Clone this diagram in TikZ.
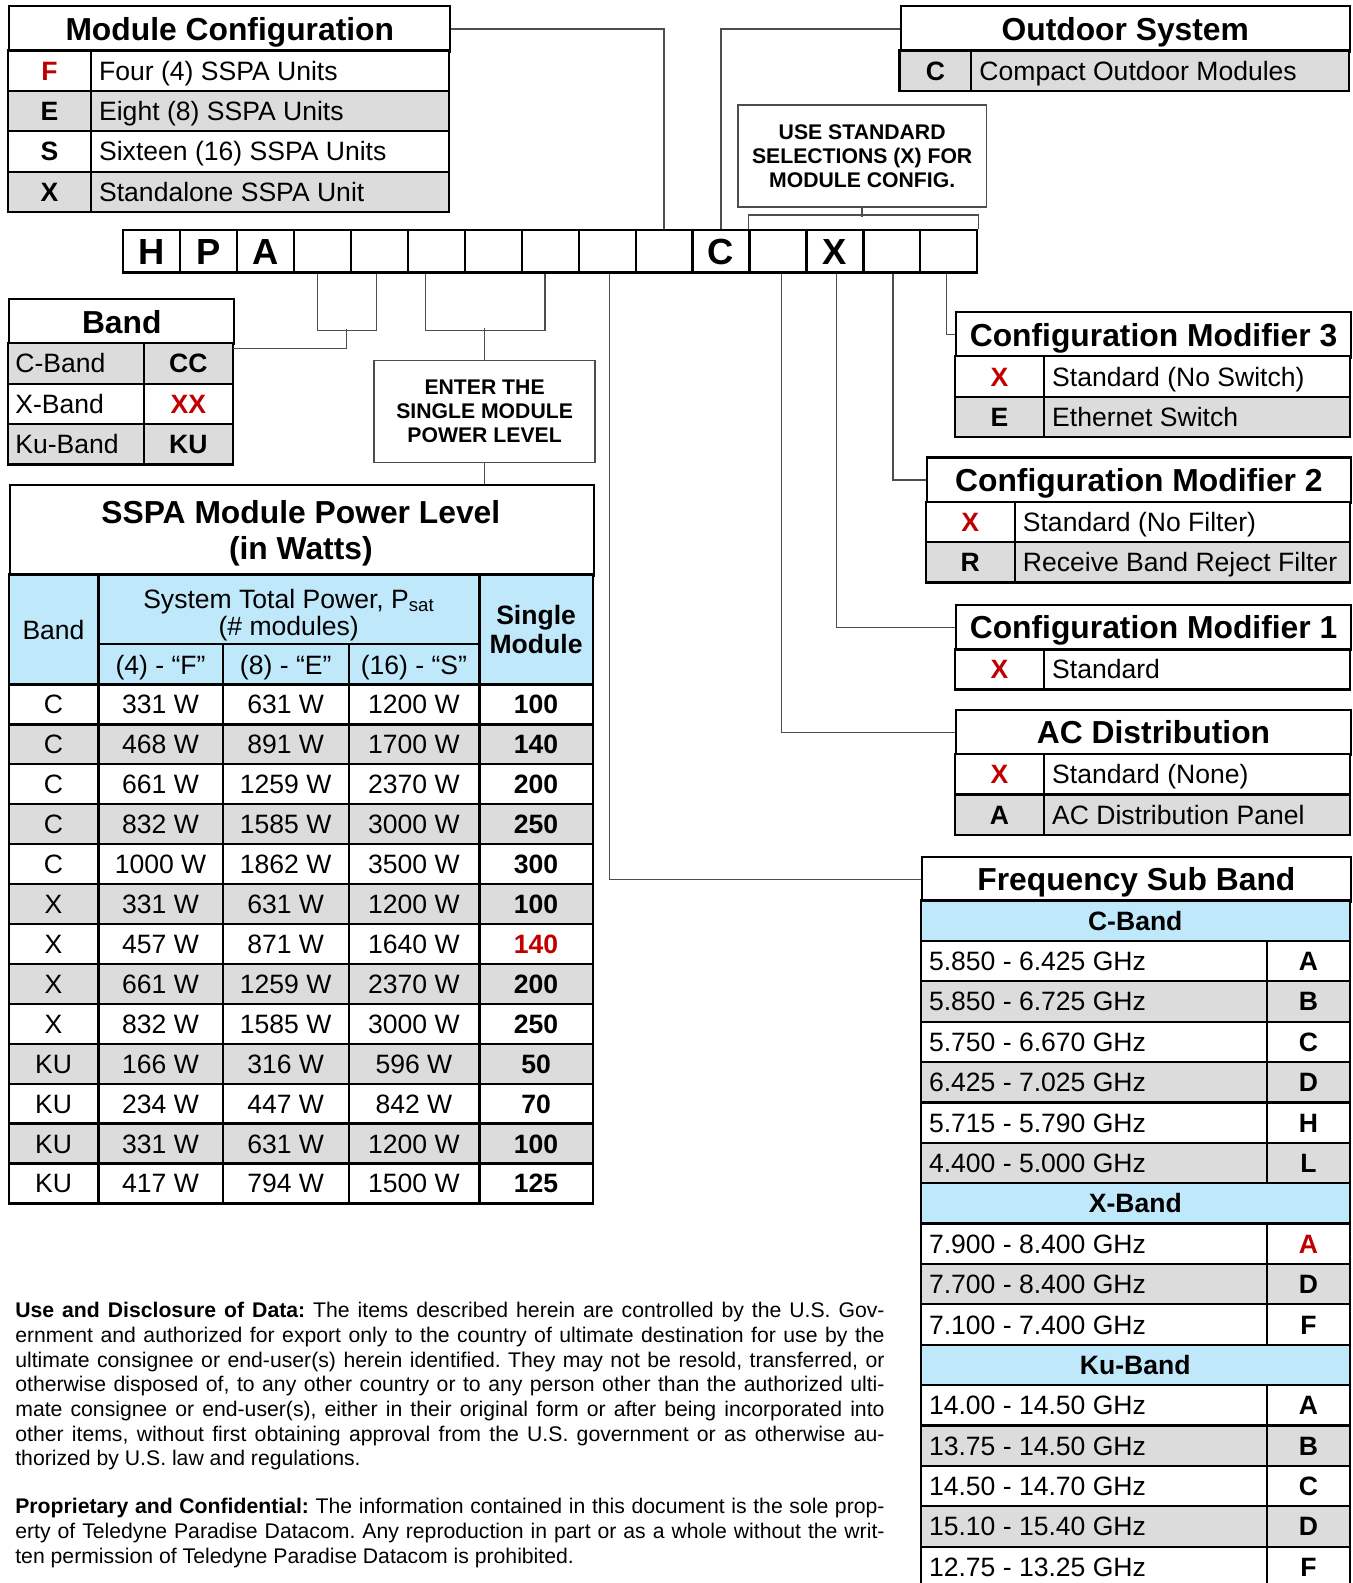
\documentclass[tikz,border=0pt]{standalone}
\usepackage{fontspec}
\setmainfont{Liberation Sans}
\frenchspacing
\definecolor{rowgray}{HTML}{DCDCDC}
\definecolor{hdrblue}{HTML}{C0E8FB}
\definecolor{keyred}{HTML}{C00000}
\definecolor{linkgray}{HTML}{4D4D4D}
\newcommand{\ttlfont}{\fontsize{31.5}{36}\selectfont\bfseries}
\newcommand{\txtfont}{\fontsize{26.3}{29.5}\selectfont}
\newcommand{\notefont}{\fontsize{21}{24}\selectfont\bfseries}
\newcommand{\codefont}{\fontsize{36}{40}\selectfont\bfseries}
\newcommand{\parfont}{\fontsize{21}{24.4}\selectfont}

\begin{document}
\begin{tikzpicture}[x=1pt, y=-1pt,
    tbl/.style={draw=black, line width=2.2pt},
    conn/.style={draw=linkgray, line width=1.4pt},
    ttlbox/.style={tbl, font=\ttlfont, inner sep=0pt, text height=22.6pt, text depth=0pt},
    ttltxt/.style={font=\ttlfont, inner sep=0pt, text height=22.6pt, text depth=0pt},
    txt/.style={font=\txtfont, inner sep=0pt, text height=18.8pt, text depth=0pt},
    keytxt/.style={txt, font=\txtfont\bfseries},
    codecell/.style={tbl, minimum width=56.4pt, minimum height=42pt, inner sep=0pt},
    codetxt/.style={font=\codefont, inner sep=0pt, text height=25.8pt, text depth=0pt},
    notebox/.style={draw=linkgray, line width=1.4pt, font=\notefont, align=center, inner sep=0pt}]
    \useasboundingbox (0,0) rectangle (1340,1568);

    % Part number boxes
    \foreach \i in {1,...,15}
        \node[codecell] (c\i) at ({122+56.4*(\i-0.5)},249) {};
    \foreach \l/\i in {H/1, P/2, A/3, C/11, X/13}
        \node[codetxt] (l\i) at (c\i) {\l};

    % Module Configuration
    \node[ttlbox, minimum width=437pt, minimum height=45pt, anchor=north west] (modcfg) at (8,5) {Module Configuration};
    \foreach \k/\kc/\t/\f [count=\i] in {F/keyred/Four (4) SSPA Units/white, E/black/Eight (8) SSPA Units/rowgray,
        S/black/Sixteen (16) SSPA Units/white, X/black/Standalone SSPA Unit/rowgray} {
        \draw[tbl, fill=\f] (8,{10+40*\i}) rectangle (445,{50+40*\i});
        \node[keytxt, text=\kc] (mck\i) at (49,{30+40*\i}) {\k};
        \node[txt, anchor=west] (mct\i) at (98,{30+40*\i}) {\t};
    }
    \draw[tbl] (90,50) -- (90,210);

    % Outdoor System
    \node[ttlbox, minimum width=445pt, minimum height=45pt, anchor=north west] (outdoor) at (891,5) {Outdoor System};
    \draw[tbl, fill=rowgray] (891,50) rectangle (1336,90);
    \draw[tbl] (962,50) -- (962,90);
    \node[keytxt] (odk) at (926.5,70) {C};
    \node[txt, anchor=west] (odt) at (970,70) {Compact Outdoor Modules};

    % Notes
    \node[notebox, minimum width=246pt, minimum height=101pt] (usenote) at (854,154.5) {USE STANDARD\\SELECTIONS (X) FOR\\MODULE CONFIG.};
    \node[notebox, minimum width=219pt, minimum height=101pt] (enternote) at (480,407.5) {ENTER THE\\SINGLE MODULE\\POWER LEVEL};

    % Band
    \node[ttlbox, minimum width=223pt, minimum height=45pt, anchor=north west] (bandttl) at (8,295) {Band};
    \foreach \t/\k/\kc/\f [count=\i] in {C-Band/CC/black/rowgray, X-Band/XX/keyred/white, Ku-Band/KU/black/rowgray} {
        \draw[tbl, fill=\f] (8,{300+40*\i}) rectangle (231,{340+40*\i});
        \node[txt, anchor=west] (bt\i) at (15,{320+40*\i}) {\t};
        \node[keytxt, text=\kc] (bk\i) at (186.5,{320+40*\i}) {\k};
    }
    \draw[tbl] (142.5,340) -- (142.5,460);
    \coordinate (bandedge) at (231,345);
    \coordinate (bandjoin) at (343.5,326);

    % SSPA Module Power Level
    \node[tbl, minimum width=578pt, minimum height=90pt, anchor=north west] (sspattl) at (9,479) {};
    \node[ttltxt] (sspa1) at (298,507) {SSPA Module Power Level};
    \node[ttltxt] (sspa2) at (298,543) {(in Watts)};
    \draw[tbl, fill=hdrblue] (9,569) rectangle (587,678);
    \node[txt] (hband) at (53,624) {Band};
    \node[txt] (hsys1) at (286,593) {System Total Power, P\textsubscript{sat}};
    \node[txt] (hsys2) at (286,620) {(\# modules)};
    \node[txt] (hf) at (159,659) {(4) - “F”};
    \node[txt] (he) at (283,659) {(8) - “E”};
    \node[txt] (hs) at (410,659) {(16) - “S”};
    \node[keytxt] (hsgl1) at (531,609) {Single};
    \node[keytxt] (hsgl2) at (531,638) {Module};
    \foreach \b/\p/\q/\r/\s/\sc/\f [count=\i] in {
        C/331/631/1200/100/black/white, C/468/891/1700/140/black/rowgray,
        C/661/1259/2370/200/black/white, C/832/1585/3000/250/black/rowgray,
        C/1000/1862/3500/300/black/white, X/331/631/1200/100/black/rowgray,
        X/457/871/1640/140/keyred/white, X/661/1259/2370/200/black/rowgray,
        X/832/1585/3000/250/black/white, KU/166/316/596/50/black/rowgray,
        KU/234/447/842/70/black/white, KU/331/631/1200/100/black/rowgray,
        KU/417/794/1500/125/black/white} {
        \pgfmathsetmacro{\yt}{678+39.54*(\i-1)}
        \draw[tbl, fill=\f] (9,\yt) rectangle (587,{\yt+39.54});
        \node[txt] (pb\i) at (53,{\yt+19.77}) {\b};
        \node[txt] (p4\i) at (159,{\yt+19.77}) {\p\ W};
        \node[txt] (p8\i) at (283,{\yt+19.77}) {\q\ W};
        \node[txt] (p16\i) at (410,{\yt+19.77}) {\r\ W};
        \node[keytxt, text=\sc] (ps\i) at (531,{\yt+19.77}) {\s};
    }
    \draw[tbl] (97.5,569) -- (97.5,1192) (475,569) -- (475,1192)
        (220.5,638) -- (220.5,1192) (345.5,638) -- (345.5,1192) (97.5,638) -- (475,638);

    % Configuration Modifier 3
    \node[ttlbox, minimum width=391pt, minimum height=45pt, anchor=north west] (cm3ttl) at (946,308) {Configuration Modifier 3};
    \foreach \k/\kc/\t/\f [count=\i] in {X/keyred/Standard (No Switch)/white, E/black/Ethernet Switch/rowgray} {
        \draw[tbl, fill=\f] (946,{313+40*\i}) rectangle (1337,{353+40*\i});
        \node[keytxt, text=\kc] (m3k\i) at (990,{333+40*\i}) {\k};
        \node[txt, anchor=west] (m3t\i) at (1042,{333+40*\i}) {\t};
    }
    \draw[tbl] (1034,353) -- (1034,433);

    % Configuration Modifier 2
    \node[ttlbox, minimum width=420pt, minimum height=45pt, anchor=north west] (cm2ttl) at (917,452) {Configuration Modifier 2};
    \foreach \k/\kc/\t/\f [count=\i] in {X/keyred/Standard (No Filter)/white, R/black/Receive Band Reject Filter/rowgray} {
        \draw[tbl, fill=\f] (917,{457+40*\i}) rectangle (1337,{497+40*\i});
        \node[keytxt, text=\kc] (m2k\i) at (961,{477+40*\i}) {\k};
        \node[txt, anchor=west] (m2t\i) at (1013,{477+40*\i}) {\t};
    }
    \draw[tbl] (1005,497) -- (1005,577);

    % Configuration Modifier 1
    \node[ttlbox, minimum width=391pt, minimum height=45pt, anchor=north west] (cm1ttl) at (946,598) {Configuration Modifier 1};
    \draw[tbl] (946,643) rectangle (1337,683);
    \draw[tbl] (1034,643) -- (1034,683);
    \node[keytxt, text=keyred] (m1k) at (990,663) {X};
    \node[txt, anchor=west] (m1t) at (1042,663) {Standard};

    % AC Distribution
    \node[ttlbox, minimum width=391pt, minimum height=45pt, anchor=north west] (acttl) at (946,702) {AC Distribution};
    \foreach \k/\kc/\t/\f [count=\i] in {X/keyred/Standard (None)/white, A/black/AC Distribution Panel/rowgray} {
        \draw[tbl, fill=\f] (946,{707+40*\i}) rectangle (1337,{747+40*\i});
        \node[keytxt, text=\kc] (ack\i) at (990,{727+40*\i}) {\k};
        \node[txt, anchor=west] (act\i) at (1042,{727+40*\i}) {\t};
    }
    \draw[tbl] (1034,747) -- (1034,827);

    % Frequency Sub Band
    \node[ttlbox, minimum width=425pt, minimum height=44pt, anchor=north west] (freqttl) at (912,848) {Frequency Sub Band};
    \draw[tbl, fill=hdrblue] (912,892) rectangle (1337,932);
    \node[keytxt] (cband) at (1124.5,912) {C-Band};
    \foreach \r/\k/\kc/\f [count=\i] in {5.850 - 6.425 GHz/A/black/white, 5.850 - 6.725 GHz/B/black/rowgray,
        5.750 - 6.670 GHz/C/black/white, 6.425 - 7.025 GHz/D/black/rowgray,
        5.715 - 5.790 GHz/H/black/white, 4.400 - 5.000 GHz/L/black/rowgray} {
        \pgfmathsetmacro{\yt}{892+40*\i}
        \draw[tbl, fill=\f] (912,\yt) rectangle (1337,{\yt+40});
        \draw[tbl] (1255,\yt) -- (1255,{\yt+40});
        \node[txt, anchor=west] (cr\i) at (920,{\yt+20}) {\r};
        \node[keytxt, text=\kc] (ck\i) at (1296,{\yt+20}) {\k};
    }
    \draw[tbl, fill=hdrblue] (912,1172) rectangle (1337,1212);
    \node[keytxt] (xband) at (1124.5,1192) {X-Band};
    \foreach \r/\k/\kc/\f [count=\i] in {7.900 - 8.400 GHz/A/keyred/white, 7.700 - 8.400 GHz/D/black/rowgray,
        7.100 - 7.400 GHz/F/black/white} {
        \pgfmathsetmacro{\yt}{1172+40*\i}
        \draw[tbl, fill=\f] (912,\yt) rectangle (1337,{\yt+40});
        \draw[tbl] (1255,\yt) -- (1255,{\yt+40});
        \node[txt, anchor=west] (xr\i) at (920,{\yt+20}) {\r};
        \node[keytxt, text=\kc] (xk\i) at (1296,{\yt+20}) {\k};
    }
    \draw[tbl, fill=hdrblue] (912,1332) rectangle (1337,1372);
    \node[keytxt] (kuband) at (1124.5,1352) {Ku-Band};
    \foreach \r/\k/\kc/\f [count=\i] in {14.00 - 14.50 GHz/A/black/white, 13.75 - 14.50 GHz/B/black/rowgray,
        14.50 - 14.70 GHz/C/black/white, 15.10 - 15.40 GHz/D/black/rowgray,
        12.75 - 13.25 GHz/F/black/white} {
        \pgfmathsetmacro{\yt}{1332+40*\i}
        \draw[tbl, fill=\f] (912,\yt) rectangle (1337,{\yt+40});
        \draw[tbl] (1255,\yt) -- (1255,{\yt+40});
        \node[txt, anchor=west] (kr\i) at (920,{\yt+20}) {\r};
        \node[keytxt, text=\kc] (kk\i) at (1296,{\yt+20}) {\k};
    }

    % Connectors
    \draw[conn] (modcfg.east) -| (c10.north);
    \draw[conn] (outdoor.west) -| (c11.north);
    \draw[conn] (usenote.south) -- ++(0,9);
    \draw[conn] (c12.north west) -- ++(0,-14) -| (c15.north east);
    \draw[conn] ([xshift=-5pt]c4.south) -- ++(0,56) -| ([xshift=-3pt]c5.south);
    \draw[conn] (bandjoin) |- (bandedge);
    \draw[conn] ([xshift=-11pt]c6.south) -- ++(0,56) -| ([xshift=-5pt]c8.south);
    \draw[conn] (enternote.north) -- ++(0,-31);
    \draw[conn] (enternote.south) -- (enternote.south |- sspattl.north);
    \draw[conn] ([xshift=2.5pt]c9.south) |- (freqttl.west);
    \draw[conn] ([xshift=3.5pt]c12.south) |- (acttl.west);
    \draw[conn] ([xshift=1.5pt]c13.south) |- (cm1ttl.west);
    \draw[conn] ([xshift=1pt]c14.south) |- (cm2ttl.west);
    \draw[conn] ([xshift=-2pt]c15.south) |- (cm3ttl.west);

    % Notices
    \node[font=\parfont, align=left, inner sep=0pt, anchor=north west] (usedata) at (15,1290) {%
        \makebox[861pt][s]{\textbf{Use and Disclosure of Data:} The items described herein are controlled by the U.S. Gov-}\\
        \makebox[861pt][s]{ernment and authorized for export only to the country of ultimate destination for use by the}\\
        \makebox[861pt][s]{ultimate consignee or end-user(s) herein identified. They may not be resold, transferred, or}\\
        \makebox[861pt][s]{otherwise disposed of, to any other country or to any person other than the authorized ulti-}\\
        \makebox[861pt][s]{mate consignee or end-user(s), either in their original form or after being incorporated into}\\
        \makebox[861pt][s]{other items, without first obtaining approval from the U.S. government or as otherwise au-}\\
        thorized by U.S. law and regulations.};
    \node[font=\parfont, align=left, inner sep=0pt, anchor=north west] (proprietary) at (15,1484) {%
        \makebox[861pt][s]{\textbf{Proprietary and Confidential:} The information contained in this document is the sole prop-}\\
        \makebox[861pt][s]{erty of Teledyne Paradise Datacom. Any reproduction in part or as a whole without the writ-}\\
        ten permission of Teledyne Paradise Datacom is prohibited.};
\end{tikzpicture}
\end{document}
